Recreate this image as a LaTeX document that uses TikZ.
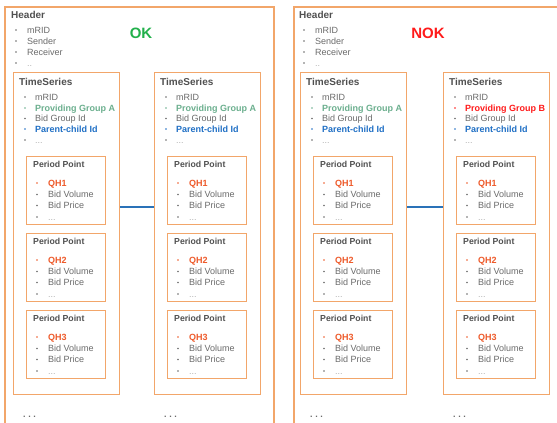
\documentclass[tikz,border=0pt]{standalone}
\usepackage{fontspec}
\setmainfont{Liberation Sans}
\usetikzlibrary{shadows}
\definecolor{boxorange}{HTML}{F2A66A}
\definecolor{txtgray}{HTML}{6A6A6A}
\definecolor{titlegray}{HTML}{505050}
\definecolor{dotgray}{HTML}{B0B0B0}
\definecolor{provgreen}{HTML}{6BAF8E}
\definecolor{pcblue}{HTML}{1F6FC5}
\definecolor{qhorange}{HTML}{EE5A2A}
\definecolor{okgreen}{HTML}{22B04B}
\definecolor{nokred}{HTML}{FF1A1A}
\definecolor{connblue}{HTML}{2A72B8}
\newcommand\myitem[6]{%
  \fill[#5] (#2,#4) circle (0.9);
  \node[txt, text=#5] (#1) at (#3,#4) {#6};}
\begin{document}
\begin{tikzpicture}[x=1pt,y=-1pt,
  box/.style={draw=boxorange, line width=1.1pt, fill=white, inner sep=0, anchor=north west,
    drop shadow={opacity=0.12, shadow xshift=0.8pt, shadow yshift=-0.8pt}},
  outer/.style={draw=boxorange, line width=1.1pt},
  txt/.style={anchor=west, inner sep=0, text height=6.5pt, text depth=0pt, text=txtgray,
    font=\fontsize{9}{10}\selectfont},
  title/.style={anchor=west, inner sep=0, text height=7.2pt, text depth=0pt, text=titlegray,
    font=\fontsize{10}{11}\selectfont\bfseries},
  pptitle/.style={anchor=west, inner sep=0, text height=6.3pt, text depth=0pt, text=titlegray,
    font=\fontsize{8.7}{10}\selectfont\bfseries},
  verdict/.style={inner sep=0, font=\fontsize{15}{16}\selectfont\bfseries},
  conn/.style={draw=connblue, line width=1.2pt},
  bdots/.style={anchor=west, inner sep=0, text=txtgray, font=\fontsize{9}{10}\selectfont\bfseries}
]
\useasboundingbox (0,0) rectangle (557,423);
% outer containers
\draw[outer] (5,423) -- (5,7) -- (274,7) -- (274,423);
\draw[outer] (294,423) -- (294,7) -- (557,7);
% headers
\foreach \k/\hx/\bx/\tx in {1/11/16/27, 2/299/304/315}{
  \node[title] (hdr\k) at (\hx,15) {Header};
  \myitem{hdr\k-a}{\bx}{\tx}{30}{txtgray}{mRID}
  \myitem{hdr\k-b}{\bx}{\tx}{41}{txtgray}{Sender}
  \myitem{hdr\k-c}{\bx}{\tx}{52}{txtgray}{Receiver}
  \myitem{hdr\k-d}{\bx}{\tx}{63}{txtgray}{\textcolor{dotgray}{..}}
}
\node[verdict, text=okgreen] (ok) at (141,33) {OK};
\node[verdict, text=nokred] (nok) at (428,33) {NOK};
% time series
\foreach \i/\x/\pg/\pgc in {1/13/{Providing Group A}/provgreen, 2/154/{Providing Group A}/provgreen,
  3/300/{Providing Group A}/provgreen, 4/443/{Providing Group B}/nokred}{
  \node[box, minimum width=106, minimum height=322] (ts\i) at (\x,72) {};
  \node[title] (tst\i) at (\x+6,82) {TimeSeries};
  \myitem{ts\i-a}{\x+12}{\x+22}{97}{txtgray}{mRID}
  \myitem{ts\i-b}{\x+12}{\x+22}{108}{\pgc}{\bfseries \pg}
  \myitem{ts\i-c}{\x+12}{\x+22}{118.5}{txtgray}{Bid Group Id}
  \myitem{ts\i-d}{\x+12}{\x+22}{129}{pcblue}{\bfseries Parent-child Id}
  \myitem{ts\i-e}{\x+12}{\x+22}{140}{txtgray}{\textcolor{dotgray}{...}}
  \foreach \j/\y in {1/156, 2/233, 3/310}{
    \node[box, minimum width=79, minimum height=68] (pp\i-\j) at (\x+13,\y) {};
    \node[pptitle] (ppt\i-\j) at (\x+20,\y+8) {Period Point};
    \myitem{qh\i-\j}{\x+24}{\x+35}{\y+27}{qhorange}{\bfseries QH\j}
    \myitem{bv\i-\j}{\x+24}{\x+35}{\y+38.5}{txtgray}{Bid Volume}
    \myitem{bp\i-\j}{\x+24}{\x+35}{\y+49.5}{txtgray}{Bid Price}
    \myitem{pd\i-\j}{\x+24}{\x+35}{\y+61}{txtgray}{\textcolor{dotgray}{...}}
  }
  \node[bdots] (more\i) at (\x+10,417) {.\hspace{2.6pt}.\hspace{2.6pt}.};
}
% connectors
\coordinate (cy) at (0,207);
\draw[conn] (ts1.east |- cy) -- (ts2.west |- cy);
\draw[conn] (ts3.east |- cy) -- (ts4.west |- cy);
\end{tikzpicture}
\end{document}
